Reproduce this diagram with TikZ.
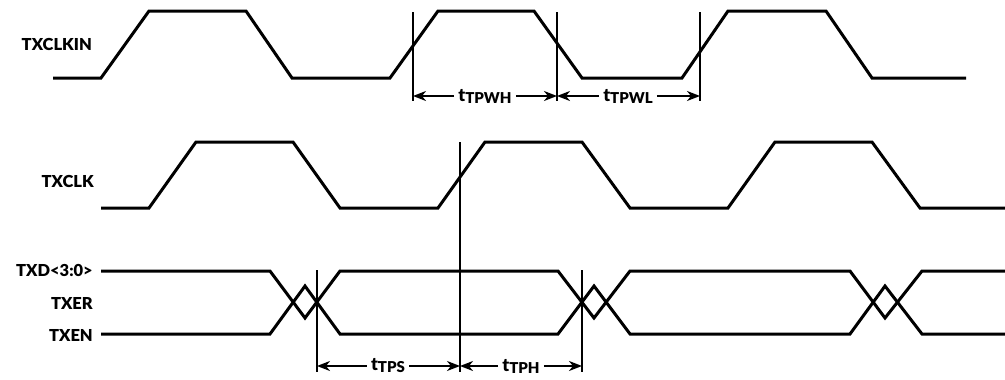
\documentclass[tikz,border=0pt]{standalone}
\usepackage{fontspec}
\setmainfont{Lato}[BoldFont={Lato Black}]
\usetikzlibrary{arrows.meta}
\begin{document}
\begin{tikzpicture}[x=1pt,y=-1pt,
  wave/.style={line width=3pt},
  guide/.style={line width=1.4pt},
  dim/.style={line width=1.7pt,-{Stealth[length=13pt,width=10pt,inset=4pt]}},
  sig/.style={font=\bfseries\fontsize{16.5}{17}\selectfont, anchor=east, inner sep=0pt},
  tlab/.style={font=\bfseries\fontsize{18}{18}\selectfont, inner sep=4pt}]
\useasboundingbox (0,0) rectangle (1005,380);

% signal names
\node[sig] (lclkin) at (92,44) {TXCLKIN};
\node[sig] (lclk) at (94,181) {TXCLK};
\node[sig] (ltxd) at (93,270) {TXD<3:0>};
\node[sig] (ltxer) at (93,303) {TXER};
\node[sig] (ltxen) at (93,335) {TXEN};

% TXCLKIN
\draw[wave] (53,78)--(101,78)--(149,11)--(246,11)--(292,78)--(390,78)--(438,11)--(534,11)--(582,78)--(682,78)--(728,11)--(826,11)--(872,78)--(966,78);
% TXCLK
\draw[wave] (101,208)--(149,208)--(196,142)--(293,142)--(340,208)--(438,208)--(485,142)--(582,142)--(630,208)--(728,208)--(775,142)--(872,142)--(920,208)--(1005,208);
% data bus
\draw[wave] (101,271)--(270,271)--(305,318)--(340,271)--(558,271)--(594,318)--(630,271)--(850,271)--(885,318)--(922,271)--(1005,271);
\draw[wave] (101,334)--(270,334)--(305,286)--(340,334)--(558,334)--(594,286)--(630,334)--(850,334)--(885,286)--(922,334)--(1005,334);

% guide lines
\coordinate (g1t) at (413,12); \coordinate (g1b) at (413,101);
\coordinate (g2t) at (557,12); \coordinate (g2b) at (557,101);
\coordinate (g3t) at (700,12); \coordinate (g3b) at (700,101);
\coordinate (g4t) at (317,270); \coordinate (g4b) at (317,372);
\coordinate (g5t) at (460,142); \coordinate (g5b) at (460,372);
\coordinate (g6t) at (582,270); \coordinate (g6b) at (582,372);
\foreach \g in {g1,g2,g3,g4,g5,g6} \draw[guide] (\g t)--(\g b);

% dimension labels
\node[tlab] (tpwh) at (485,96) {t\raisebox{-2pt}{\fontsize{15}{15}\selectfont TPWH}};
\node[tlab] (tpwl) at (628,96) {t\raisebox{-2pt}{\fontsize{15}{15}\selectfont TPWL}};
\node[tlab] (tps) at (388,366) {t\raisebox{-2pt}{\fontsize{15}{15}\selectfont TPS}};
\node[tlab] (tph) at (521,366) {t\raisebox{-2pt}{\fontsize{15}{15}\selectfont TPH}};

\coordinate (a1) at (413,96); \coordinate (a2) at (557,96); \coordinate (a3) at (700,96);
\coordinate (b1) at (317,366); \coordinate (b2) at (460,366); \coordinate (b3) at (582,366);
\draw[dim] (tpwh.west) -- (a1);
\draw[dim] (tpwh.east) -- (a2);
\draw[dim] (tpwl.west) -- (a2);
\draw[dim] (tpwl.east) -- (a3);
\draw[dim] (tps.west) -- (b1);
\draw[dim] (tps.east) -- (b2);
\draw[dim] (tph.west) -- (b2);
\draw[dim] (tph.east) -- (b3);
\end{tikzpicture}
\end{document}
